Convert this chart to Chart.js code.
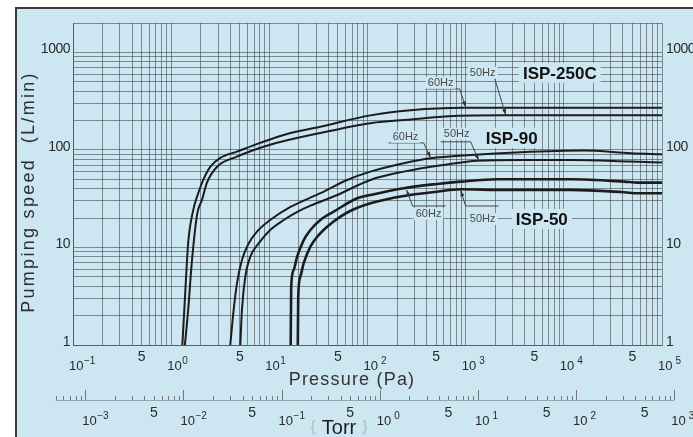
<!DOCTYPE html>
<html><head><meta charset="utf-8">
<script src="https://cdn.jsdelivr.net/npm/chart.js@4"></script>
<style>html,body{margin:0;padding:0;background:#fff;overflow:hidden}canvas{display:block}</style>
</head><body>
<canvas id="c" width="693" height="437" style="width:693px;height:437px"></canvas>
<script>
// ---- data (Pressure in Pa, speed in L/min) ----
const pa250_60 = [1.3,1.39,1.49,1.68,1.89,2.12,2.5,3.16,4.68,8.09,16.4,33.1,107,294,955,3000,20000,100000];
const sp250_60 = [1,3.4,11.1,24.3,36.2,49.2,66.9,82.8,96.1,118,149,173,226,257,270,271,270,270];
const pa250_50 = [1.38,1.49,1.63,1.84,2.06,2.31,2.92,4.68,10.2,33.1,107,294,755,2440,100000];
const sp250_50 = [1,2.29,7.4,22,30.7,45.9,66.9,85.4,113,149,188,206,223,226,226];
const pa90_60 = [4.0,4.33,4.68,5.26,6.15,7.48,10.2,16.4,33.1,62.1,107,234,439,1125,3640,16100,48300,100000];
const sp90_60 = [1,2.29,4.29,7.45,11.0,14.5,19.1,26.0,36.0,49.2,59.9,73.1,82.2,88.9,94.7,98.4,92.5,90.3];
const pa90_50 = [5.06,5.26,5.69,6.40,7.78,10.2,14.0,19.9,26.2,49.1,107,234,601,1316,3640,11800,48300,100000];
const sp90_50 = [1,2.29,5.02,8.05,11.0,15.1,19.1,23.6,26.8,34.5,49.2,59.9,70.2,77.6,78.9,78.9,75.9,74.1];
const pa50_60 = [16.5,16.7,17.7,19.2,22.4,26.2,33.1,45.3,78.5,107,234,514,889,2100,11800,41200,56400,100000];
const sp50_60 = [1,3.96,5.88,8.05,11.9,15.1,19.1,23.3,32.0,34.5,40.5,44.8,47.3,50.0,50.0,47.3,46.2,46.2];
const pa50_50 = [19.5,19.7,20.7,22.4,26.2,31.8,38.8,53.0,69.8,107,234,514,889,2460,11800,41200,56400,100000];
const sp50_50 = [1,3.13,5.02,6.89,10.2,13.4,16.3,20.7,24.2,28.4,33.7,37.3,39.5,38.9,38.9,36.8,36.0,36.0];

// ---- tick labels ----
const yTickLabels = [1,10,100,1000];
const paExponents = [-1,0,1,2,3,4,5];
const paFives = [0.5,5,50,500,5000,50000];
const torrExponents = [-3,-2,-1,0,1,2,3];
const torrFives = [0.005,0.05,0.5,5,50,500];
const TORR_TO_PA = 133.322;

// ---- annotations (data coordinates) ----
const modelNames = ['ISP-250C','ISP-90','ISP-50'];
const modelAt = [[9100,617],[2940,133],[5970,19.6]];
const hzNames = ['60Hz','50Hz','60Hz','50Hz','60Hz','50Hz'];
const hzAt = [[556,487],[1490,617],[244,136],[809,146],[419,22.1],[1490,19.6]];
const leaders = [
  [[391,422],[869,422],[1000,274]],
  [[1980,535],[2560,228]],
  [[164,118],[373,118],[439,83]],
  [[556,121],[1125,121],[1358,78]],
  [[625,26.6],[288,26.6],[250,38.9]],
  [[2170,26.6],[1000,26.6],[889,38.5]]
];

const zip = (xs, ys) => xs.map((x,i)=>({x, y: ys[i]}));
const BG = '#cde7f2';
const FONT = '"Liberation Sans", Arial, sans-serif';

function logTicks(lo, hi) {
  const t = [];
  for (let e = lo; e < hi; e++) for (let m = 1; m <= 9; m++) t.push({value: m * Math.pow(10, e)});
  t.push({value: Math.pow(10, hi)});
  return t;
}
function expStr(e){ return e < 0 ? '\u2212' + (-e) : String(e); }

const bgPlugin = {
  id: 'bg',
  beforeDraw(chart) {
    const c = chart.ctx;
    c.save();
    c.fillStyle = '#fff'; c.fillRect(0,0,chart.width,chart.height);
    c.fillStyle = BG; c.fillRect(16,8,chart.width-16,chart.height-8);
    c.strokeStyle = '#3a3a3a'; c.lineWidth = 2;
    c.beginPath(); c.moveTo(16,chart.height); c.lineTo(16,8); c.lineTo(chart.width,8); c.stroke();
    c.restore();
  }
};

const textPlugin = {
  id: 'texts',
  afterDatasetsDraw(chart) {
    const c = chart.ctx, xs = chart.scales.x, ys = chart.scales.y;
    c.save();
    c.fillStyle = '#2a2a2a';
    c.textBaseline = 'middle';
    // y labels
    c.font = '14px ' + FONT;
    c.letterSpacing = '-0.5px';
    yTickLabels.forEach(v => {
      const y = ys.getPixelForValue(v) - 3;
      c.textAlign = 'right'; c.fillText(String(v), xs.left - 3, y);
      c.textAlign = 'left'; c.fillText(String(v), xs.right + 4, y);
    });
    c.letterSpacing = '0px';
    // Pa axis labels
    const paY = ys.bottom + 21;
    paExponents.forEach(e => {
      const x = xs.getPixelForValue(Math.pow(10, e)) - 4;
      c.textAlign = 'left'; c.font = '13px ' + FONT;
      c.fillText('10', x, paY);
      const w = c.measureText('10').width;
      c.font = '10px ' + FONT;
      c.fillText(expStr(e), x + w + (e >= 2 ? 3 : 0.5), paY - 5);
    });
    c.font = '14px ' + FONT; c.textAlign = 'center';
    paFives.forEach(v => c.fillText('5', xs.getPixelForValue(v), ys.bottom + 12));
    // Pressure title
    c.fillStyle = '#333';
    c.font = '18px ' + FONT; c.letterSpacing = '1.2px';
    c.fillText('Pressure (Pa)', 352, ys.bottom + 35);
    c.letterSpacing = '0px';
    // Torr axis
    const tY = ys.bottom + 55;
    const tx = v => xs.getPixelForValue(v * TORR_TO_PA);
    c.strokeStyle = 'rgba(90,90,90,0.45)'; c.lineWidth = 1;
    c.beginPath(); c.moveTo(tx(5e-4), tY + 0.5); c.lineTo(tx(1000), tY + 0.5); c.stroke();
    c.strokeStyle = '#777';
    for (let e = -4; e <= 3; e++) {
      for (let m = 1; m <= 9; m++) {
        const v = m * Math.pow(10, e);
        if (v < 5e-4 - 1e-12 || v > 1000 + 1e-9) continue;
        const h = m === 1 ? 10 : 4;
        const x = Math.round(tx(v)) + 0.5;
        c.beginPath(); c.moveTo(x, tY); c.lineTo(x, tY - h); c.stroke();
      }
    }
    c.fillStyle = '#2a2a2a';
    torrExponents.forEach(e => {
      const x = tx(Math.pow(10, e)) - 3;
      c.textAlign = 'left'; c.font = '13px ' + FONT;
      c.fillText('10', x, tY + 21);
      const w = c.measureText('10').width;
      c.font = '10px ' + FONT;
      c.fillText(expStr(e), x + w + (e >= 0 ? 3 : 0.5), tY + 16);
    });
    c.font = '14px ' + FONT; c.textAlign = 'center';
    torrFives.forEach(v => c.fillText('5', tx(v), tY + 13));
    c.fillStyle = '#1e1e1e'; c.font = '20px ' + FONT;
    c.fillText('Torr', 339, tY + 28);
    c.fillStyle = '#b5b5b5'; c.font = '15px ' + FONT;
    c.fillText('{', 313, tY + 27); c.fillText('}', 365, tY + 27);
    // Y title
    c.save();
    c.translate(29, 192); c.rotate(-Math.PI/2);
    c.fillStyle = '#2e2e2e'; c.font = '18px ' + FONT; c.letterSpacing = '2.3px';
    c.textAlign = 'center';
    c.fillText('Pumping speed  (L/min)', 0, 0);
    c.restore();
    // leaders
    c.strokeStyle = '#444'; c.fillStyle = '#333'; c.lineWidth = 1;
    leaders.forEach(pts => {
      const p = pts.map(([a,b]) => [xs.getPixelForValue(a), ys.getPixelForValue(b)]);
      c.beginPath(); c.moveTo(p[0][0], p[0][1]);
      for (let i = 1; i < p.length; i++) c.lineTo(p[i][0], p[i][1]);
      c.stroke();
      const [x1,y1] = p[p.length-2], [x2,y2] = p[p.length-1];
      const ang = Math.atan2(y2-y1, x2-x1), L = 6, W = 2;
      c.beginPath();
      c.moveTo(x2, y2);
      c.lineTo(x2 - L*Math.cos(ang) + W*Math.sin(ang), y2 - L*Math.sin(ang) - W*Math.cos(ang));
      c.lineTo(x2 - L*Math.cos(ang) - W*Math.sin(ang), y2 - L*Math.sin(ang) + W*Math.cos(ang));
      c.closePath(); c.fill();
    });
    // Hz labels
    c.textAlign = 'center';
    c.font = '11px ' + FONT;
    hzNames.forEach((t, i) => {
      const x = xs.getPixelForValue(hzAt[i][0]), y = ys.getPixelForValue(hzAt[i][1]);
      const w = c.measureText(t).width;
      c.fillStyle = BG; c.fillRect(x - w/2 - 2, y - 6, w + 4, 12);
      c.fillStyle = '#4a4a4a'; c.fillText(t, x, y);
    });
    // model labels
    c.font = 'bold 17px ' + FONT;
    modelNames.forEach((t, i) => {
      const x = xs.getPixelForValue(modelAt[i][0]), y = ys.getPixelForValue(modelAt[i][1]);
      const w = c.measureText(t).width;
      c.fillStyle = BG; c.fillRect(x - w/2 - 4, y - 10, w + 8, 20);
      c.fillStyle = '#111'; c.fillText(t, x, y + 1);
    });
    c.restore();
  }
};

const series = [[pa250_60,sp250_60,2],[pa250_50,sp250_50,2],[pa90_60,sp90_60,2],[pa90_50,sp90_50,2],[pa50_60,sp50_60,2.6],[pa50_50,sp50_50,2.6]];
const gridColor = 'rgba(55,60,62,0.55)';

new Chart(document.getElementById('c'), {
  type: 'line',
  data: {
    datasets: series.map(([xsArr, ysArr, w]) => ({
      data: zip(xsArr, ysArr),
      borderColor: '#1c1c1c',
      borderWidth: w,
      pointRadius: 0,
      cubicInterpolationMode: 'monotone',
      fill: false
    }))
  },
  options: {
    responsive: false,
    animation: false,
    devicePixelRatio: 1,
    layout: { padding: { left: 73, right: 31, top: 23, bottom: 92 } },
    plugins: { legend: { display: false }, tooltip: { enabled: false } },
    scales: {
      x: {
        type: 'logarithmic', min: 0.1, max: 100000,
        afterBuildTicks: a => { a.ticks = logTicks(-1, 5); },
        afterFit: s => { s.height = 0; },
        ticks: { display: false },
        grid: { color: gridColor, lineWidth: 1, drawTicks: false },
        border: { display: true, color: gridColor }
      },
      y: {
        type: 'logarithmic', min: 1, max: 2000,
        afterBuildTicks: a => { const t = logTicks(0, 3); t.push({value: 2000}); a.ticks = t; },
        afterFit: s => { s.width = 0; },
        ticks: { display: false },
        grid: { color: gridColor, lineWidth: 1, drawTicks: false },
        border: { display: true, color: gridColor }
      }
    }
  },
  plugins: [bgPlugin, textPlugin]
});
</script></body></html>
